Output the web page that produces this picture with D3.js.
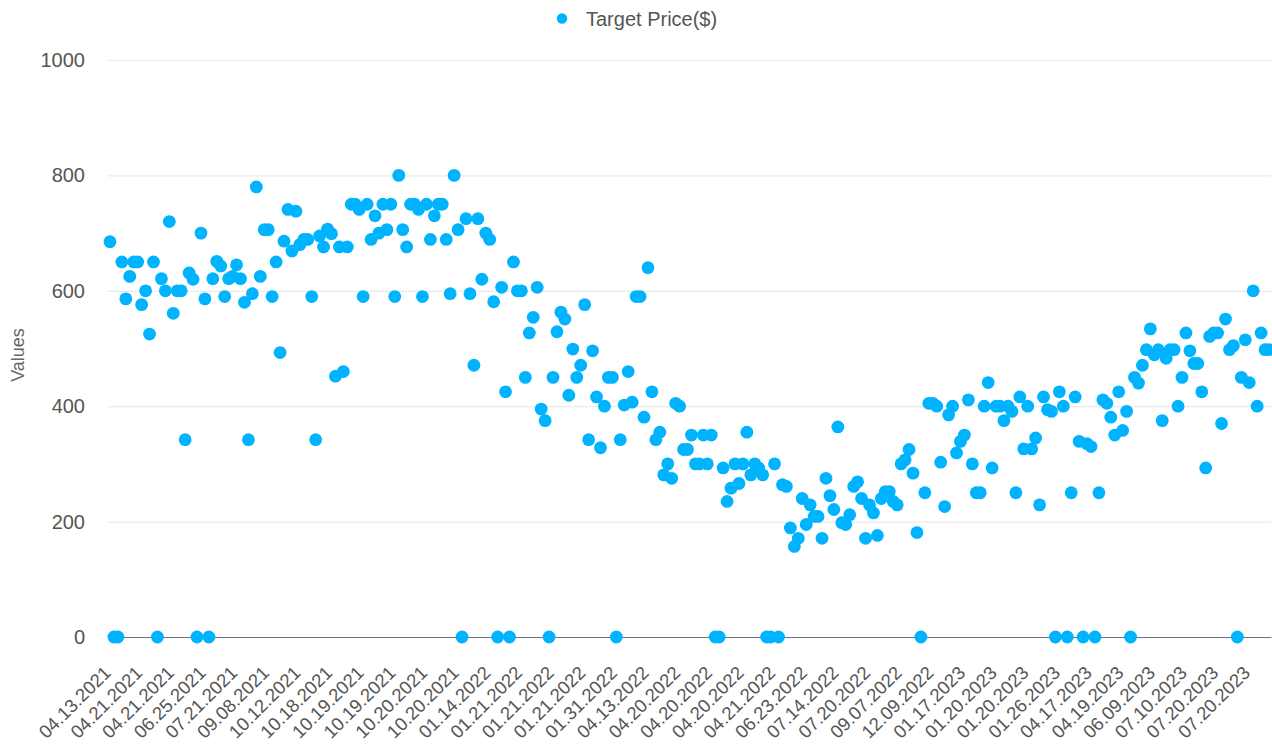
<!DOCTYPE html>
<html>
<head>
<meta charset="utf-8">
<script src="https://cdn.jsdelivr.net/npm/d3@7"></script>
<style>
  html, body { margin: 0; padding: 0; background: #fff; }
  svg { display: block; font-family: "Liberation Sans", Arial, sans-serif; }
</style>
</head>
<body>
<div id="chart"></div>
<script>
"use strict";

// Series name, shown in the legend.
let seriesName = "Target Price($)";

// Only every 8th category date is printed on the axis.
let labelEvery = 8;
let tickLabels = [
  "04.13.2021", "04.21.2021", "04.21.2021", "06.25.2021", "07.21.2021",
  "09.08.2021", "10.12.2021", "10.18.2021", "10.19.2021", "10.19.2021",
  "10.20.2021", "10.20.2021", "01.14.2022", "01.21.2022", "01.21.2022",
  "01.21.2022", "01.31.2022", "04.13.2022", "04.20.2022", "04.20.2022",
  "04.20.2022", "04.21.2022", "06.23.2022", "07.14.2022", "07.20.2022",
  "09.07.2022", "12.09.2022", "01.17.2023", "01.20.2023", "01.20.2023",
  "01.26.2023", "04.17.2023", "04.19.2023", "06.09.2023", "07.10.2023",
  "07.20.2023", "07.20.2023"
];

// One target price per category, in axis order.
let targetPrices = [
  685, 0, 0, 650, 586, 625, 650, 650, 576, 600,
  525, 650, 0, 621, 600, 720, 561, 600, 600, 342,
  631, 620, 0, 700, 586, 0, 621, 651, 643, 590,
  621, 625, 645, 621, 580, 342, 595, 780, 625, 706,
  706, 590, 650, 493, 686, 741, 669, 738, 680, 689,
  689, 590, 342, 695, 676, 707, 699, 452, 676, 460,
  676, 750, 750, 741, 590, 750, 689, 730, 700, 750,
  706, 750, 590, 800, 706, 676, 750, 750, 741, 590,
  750, 689, 730, 750, 750, 689, 595, 800, 706, 0,
  725, 595, 471, 725, 620, 700, 689, 581, 0, 606,
  425, 0, 650, 600, 600, 450, 527, 554, 606, 395,
  375, 0, 450, 529, 563, 551, 419, 499, 450, 471,
  576, 342, 496, 416, 328, 400, 450, 450, 0, 342,
  402, 460, 407, 590, 590, 381, 640, 425, 342, 355,
  281, 300, 275, 405, 400, 325, 325, 350, 300, 300,
  350, 300, 350, 0, 0, 293, 235, 258, 300, 266,
  300, 355, 281, 300, 293, 281, 0, 0, 300, 0,
  264, 261, 189, 157, 171, 240, 195, 229, 209, 209,
  171, 275, 245, 221, 364, 198, 195, 212, 261, 269,
  240, 171, 229, 215, 176, 240, 252, 252, 235, 229,
  300, 307, 325, 284, 181, 0, 250, 405, 405, 400,
  303, 226, 385, 400, 319, 339, 350, 411, 300, 250,
  250, 400, 441, 293, 400, 400, 375, 400, 391, 250,
  416, 326, 400, 326, 345, 229, 416, 394, 391, 0,
  425, 400, 0, 250, 416, 339, 0, 335, 330, 0,
  250, 411, 405, 381, 350, 425, 358, 391, 0, 450,
  440, 471, 498, 534, 489, 498, 375, 483, 498, 498,
  400, 450, 527, 496, 474, 474, 425, 293, 521, 527,
  527, 370, 551, 498, 505, 0, 450, 515, 441, 600,
  400, 527, 498, 498
];

let yTicks = [0, 200, 400, 600, 800, 1000];

let dotColour = "#00b3ff";
let textColour = "#555";

let canvasWidth = 1272;
let canvasHeight = 747;
let plot = { left: 108, right: 1271, top: 60, bottom: 637 };

let svg = d3.select("#chart")
  .append("svg")
  .attr("width", canvasWidth)
  .attr("height", canvasHeight);

let x = d3.scaleBand()
  .domain(d3.range(targetPrices.length))
  .range([plot.left, plot.right])
  .padding(0);

let y = d3.scaleLinear()
  .domain([0, 1000])
  .range([plot.bottom, plot.top]);

// Horizontal grid lines and value labels.
let yAxis = svg.append("g")
  .attr("transform", `translate(${plot.left},0)`)
  .call(d3.axisLeft(y)
    .tickValues(yTicks)
    .tickFormat(d3.format("d"))
    .tickSize(-(plot.right - plot.left))
    .tickPadding(23));

yAxis.select(".domain").remove();
yAxis.selectAll(".tick line")
  .attr("stroke", "#ebebeb")
  .attr("stroke-width", 1.2);
yAxis.selectAll(".tick text")
  .attr("fill", textColour)
  .style("font-size", "20px");

// Category axis, one printed date every few points.
let xAxis = svg.append("g")
  .attr("transform", `translate(0,${plot.bottom})`)
  .call(d3.axisBottom(x)
    .tickValues(d3.range(0, targetPrices.length, labelEvery))
    .tickFormat(i => tickLabels[i / labelEvery])
    .tickSize(0)
    .tickSizeOuter(0));

xAxis.select(".domain")
  .attr("stroke", "#6e7079")
  .attr("stroke-width", 1.2);
xAxis.selectAll(".tick text")
  .attr("x", 0)
  .attr("y", 0)
  .attr("dy", 0)
  .attr("transform", "translate(2,37) rotate(-45)")
  .attr("text-anchor", "end")
  .attr("fill", textColour)
  .style("font-size", "18.5px");

// Axis title.
svg.append("text")
  .attr("transform", "translate(24,355) rotate(-90)")
  .attr("text-anchor", "middle")
  .attr("fill", "#666")
  .style("font-size", "18px")
  .text("Values");

// The points.
svg.append("g")
  .selectAll("circle")
  .data(targetPrices)
  .enter()
  .append("circle")
  .attr("cx", (d, i) => x(i) + x.bandwidth() / 2)
  .attr("cy", d => y(d))
  .attr("r", 6.4)
  .attr("fill", dotColour);

// Legend.
let legend = svg.append("g")
  .attr("transform", "translate(562,18.5)");
legend.append("circle")
  .attr("r", 5.2)
  .attr("fill", dotColour);
legend.append("text")
  .attr("x", 24)
  .attr("dominant-baseline", "central")
  .attr("fill", textColour)
  .style("font-size", "20px")
  .text(seriesName);
</script>
</body>
</html>
